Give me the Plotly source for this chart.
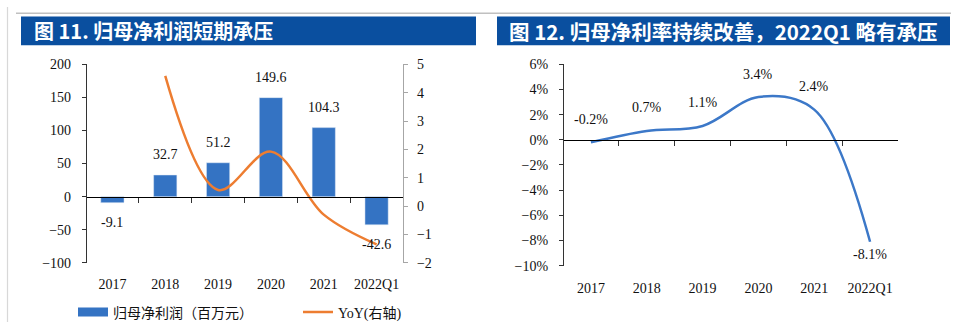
import plotly.graph_objects as go

# ---------------- data ----------------
categories = ["2017", "2018", "2019", "2020", "2021", "2022Q1"]
net_profit = [-9.1, 32.7, 51.2, 149.6, 104.3, -42.6]          # 百万元
yoy_categories = ["2018", "2019", "2020", "2021", "2022Q1"]
yoy = [4.59, 0.57, 1.92, -0.30, -1.35]                          # 右轴
net_margin = [-0.2, 0.7, 1.1, 3.4, 2.4, -8.1]                   # %

left_title = "图 11. 归母净利润短期承压"
right_title = "图 12. 归母净利率持续改善，2022Q1 略有承压"
bar_name = "归母净利润（百万元）"
line_name = "YoY(右轴)"

# ---------------- layout helpers ----------------
W, H = 954, 330
def px_x(p):
    return p / W
def px_y(p):
    return 1 - p / H

BLUE_BAR = "#3473C3"
ORANGE = "#ED7D31"
BLUE_LINE = "#3C78C8"
TITLE_BG = "#0A4F9F"
SERIF = "Liberation Serif, 'Times New Roman', serif"
MIX = "Liberation Serif, 'Noto Sans CJK SC', serif"
CJK_BOLD = "'Noto Sans CJK SC', 'Noto Sans', sans-serif"

L_dom_x = [px_x(86), px_x(403)]
L_dom_y = [px_y(268), px_y(60)]
L_range = [-100, 200]
L_zero = L_dom_y[0] + (L_dom_y[1] - L_dom_y[0]) * (0 - L_range[0]) / (L_range[1] - L_range[0])

R_dom_x = [px_x(563), px_x(898)]
R_dom_y = [px_y(271), px_y(60)]
R_range = [-10, 6]
R_zero = R_dom_y[0] + (R_dom_y[1] - R_dom_y[0]) * (0 - R_range[0]) / (R_range[1] - R_range[0])

fig = go.Figure()

# legend proxy for the bar series (wide rectangle like the reference)
fig.add_trace(go.Scatter(x=[None], y=[None], mode="lines", name=bar_name,
                         line=dict(color=BLUE_BAR, width=9),
                         xaxis="x", yaxis="y", showlegend=True, hoverinfo="skip"))
fig.add_trace(go.Bar(x=categories, y=net_profit, name=bar_name, marker_color=BLUE_BAR,
                     width=0.44, xaxis="x", yaxis="y", showlegend=False))
fig.add_trace(go.Scatter(x=yoy_categories, y=yoy, name=line_name, mode="lines",
                         line=dict(color=ORANGE, width=2.5, shape="spline", smoothing=1.0),
                         xaxis="x", yaxis="y2", showlegend=True))
fig.add_trace(go.Scatter(x=categories, y=net_margin, name="归母净利率", mode="lines",
                         line=dict(color=BLUE_LINE, width=2.5, shape="spline", smoothing=1.0),
                         xaxis="x3", yaxis="y3", showlegend=False))

tickfont = dict(family=SERIF, size=14, color="#111")

fig.update_layout(
    width=W, height=H,
    margin=dict(l=0, r=0, t=0, b=0),
    paper_bgcolor="white", plot_bgcolor="rgba(0,0,0,0)",
    showlegend=True,
    xaxis=dict(domain=L_dom_x, anchor="free", position=L_zero, type="category",
               categoryorder="array", categoryarray=categories, range=[-0.5, 5.5],
               showline=True, linecolor="#000", linewidth=1.3, ticks="outside",
               tickson="boundaries", ticklen=5, tickcolor="#333", tickwidth=1,
               ticklabelstandoff=74, tickfont=tickfont, showgrid=False, zeroline=False),
    yaxis=dict(domain=L_dom_y, anchor="free", position=L_dom_x[0], range=L_range,
               dtick=50, showline=True, linecolor="#333", linewidth=1.2, ticks="outside",
               ticklen=4, tickcolor="#333", ticklabelstandoff=8, tickfont=tickfont,
               showgrid=False, zeroline=False),
    yaxis2=dict(overlaying="y", side="right", anchor="free", position=L_dom_x[1],
                range=[-2, 5], dtick=1, showline=True, linecolor="#A6A6A6", linewidth=1.2,
                ticks="outside", ticklen=4, tickcolor="#A6A6A6", ticklabelstandoff=6,
                tickfont=tickfont, showgrid=False, zeroline=False),
    xaxis3=dict(domain=R_dom_x, anchor="free", position=R_zero, type="category",
                categoryorder="array", categoryarray=categories, range=[-0.5, 5.5],
                showline=True, linecolor="#000", linewidth=1.3, ticks="outside",
                tickson="boundaries", ticklen=5, tickcolor="#333", tickwidth=1,
                ticklabelstandoff=135, tickfont=tickfont, showgrid=False, zeroline=False),
    yaxis3=dict(domain=R_dom_y, anchor="free", position=R_dom_x[0], range=R_range,
                dtick=2, ticksuffix="%", showline=True, linecolor="#333", linewidth=1.2,
                ticks="outside", ticklen=4, tickcolor="#333", ticklabelstandoff=8,
                tickfont=tickfont, showgrid=False, zeroline=False),
    legend=dict(orientation="h", x=px_x(73), y=px_y(320), xanchor="left", yanchor="middle",
                font=dict(family=MIX, size=14, color="#111"), bgcolor="rgba(0,0,0,0)",
                itemwidth=30, traceorder="normal", entrywidth=180),
)

# ---------------- decorations ----------------
shapes = [
    dict(type="line", xref="paper", yref="paper", x0=px_x(16), x1=px_x(951), y0=px_y(6.5), y1=px_y(6.5),
         line=dict(color="#C0C0C0", width=1.5)),
    dict(type="line", xref="paper", yref="paper", x0=px_x(7.5), x1=px_x(7.5), y0=0, y1=1,
         line=dict(color="#D8D8D8", width=1.2)),
    dict(type="rect", xref="paper", yref="paper", x0=px_x(21), x1=px_x(476), y0=px_y(40), y1=px_y(10),
         fillcolor=TITLE_BG, line=dict(width=0), layer="below"),
    dict(type="rect", xref="paper", yref="paper", x0=px_x(497), x1=px_x(950), y0=px_y(40), y1=px_y(10),
         fillcolor=TITLE_BG, line=dict(width=0), layer="below"),
]
fig.update_layout(shapes=shapes)

annotations = [
    dict(text=f"<b>{left_title}</b>", xref="paper", yref="paper", x=px_x(32), y=px_y(25),
         xanchor="left", yanchor="middle", showarrow=False,
         font=dict(family=CJK_BOLD, size=20, color="white")),
    dict(text=f"<b>{right_title}</b>", xref="paper", yref="paper", x=px_x(507), y=px_y(25),
         xanchor="left", yanchor="middle", showarrow=False,
         font=dict(family=CJK_BOLD, size=20.5, color="white")),
]
# category axes: annotate by category index so "2017" isn't read as a number
for i, v in enumerate(net_profit):
    annotations.append(dict(text=f"{v:.1f}", x=i, y=v, xref="x", yref="y", showarrow=False,
                            yshift=20 if v >= 0 else -20, yanchor="middle",
                            font=dict(family=SERIF, size=14, color="#111")))
margin_label_below = [False, False, False, False, False, True]
for i, (v, below) in enumerate(zip(net_margin, margin_label_below)):
    annotations.append(dict(text=f"{v:.1f}%", x=i, y=v, xref="x3", yref="y3", showarrow=False,
                            yshift=-13 if below else 23, yanchor="middle",
                            font=dict(family=SERIF, size=14, color="#111")))
fig.update_layout(annotations=annotations)

fig.write_html("out.html")
